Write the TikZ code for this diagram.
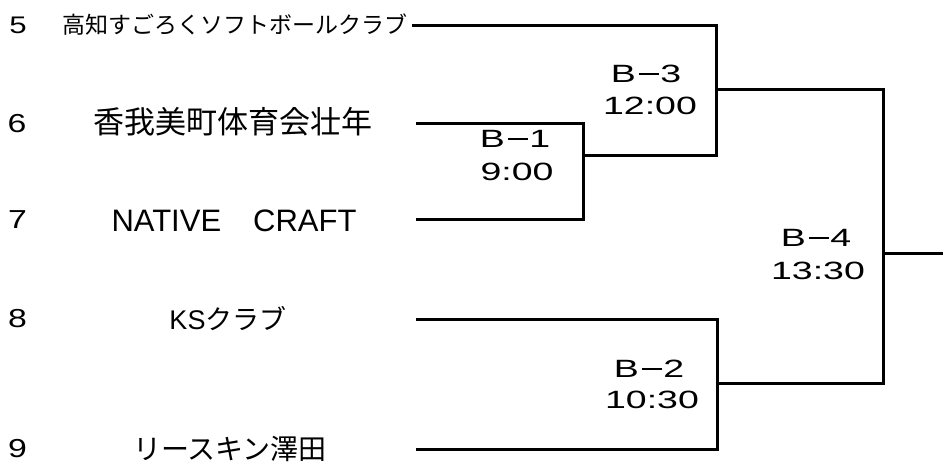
\documentclass[tikz,border=0pt]{standalone}
\usepackage{fontspec}
\setmainfont{Liberation Sans}
\newfontfamily\jpfont{Noto Sans CJK JP}
\newfontfamily\labfont[FakeStretch=1.5]{Liberation Sans}
\newfontfamily\numfont[FakeStretch=1.3]{Liberation Sans}
\newcommand\bminus{\hspace{3pt}\rule[7.5pt]{20pt}{2pt}\hspace{1.5pt}}
\begin{document}
\begin{tikzpicture}[x=1pt,y=-1pt,
  numtxt/.style={inner sep=0pt,font=\numfont\fontsize{26}{26}\selectfont},
  teamtxt/.style={inner sep=0pt},
  labtxt/.style={inner sep=0pt,font=\labfont\fontsize{25}{25}\selectfont},
  bline/.style={line width=3pt,line cap=rect,line join=miter}]
\fill[white] (0,0) rectangle (943,464);
\useasboundingbox (0,0) rectangle (943,464);
% numbers
\node[numtxt,font=\numfont\fontsize{24}{24}\selectfont] (n5) at (18,25) {5};
\node[numtxt] (n6) at (17,124) {6};
\node[numtxt] (n7) at (17.5,220) {7};
\node[numtxt] (n8) at (17.5,319) {8};
\node[numtxt] (n9) at (17.5,449) {9};
% team names
\node[teamtxt,font=\jpfont\fontsize{23}{23}\selectfont] (t5) at (235,25) {高知すごろくソフトボールクラブ};
\node[teamtxt,font=\jpfont\fontsize{31}{31}\selectfont] (t6) at (233,122) {香我美町体育会壮年};
\node[teamtxt,font=\fontsize{31}{31}\selectfont] (t7) at (234,221) {NATIVE\hspace{32pt}CRAFT};
\node[teamtxt,font=\fontsize{27}{27}\selectfont] (t8) at (228,319) {KS{\jpfont クラブ}};
\node[teamtxt,font=\jpfont\fontsize{28}{28}\selectfont] (t9) at (230,449) {リースキン澤田};
% match labels
\node[labtxt] (b1a) at (515,139) {B\bminus 1};
\node[labtxt] (b1b) at (517,172) {9:00};
\node[labtxt] (b3a) at (646,74) {B\bminus 3};
\node[labtxt] (b3b) at (650,106) {12:00};
\node[labtxt] (b2a) at (649,369) {B\bminus 2};
\node[labtxt] (b2b) at (652,400) {10:30};
\node[labtxt] (b4a) at (816,237.5) {B\bminus 4};
\node[labtxt] (b4b) at (818,271) {13:30};
% line start points
\coordinate (s5) at (413,25);
\coordinate (s6) at (417,123);
\coordinate (s7) at (417,219);
\coordinate (s8) at (417,319);
\coordinate (s9) at (417,449);
% bracket corners
\coordinate (c6) at (583,123);
\coordinate (c7) at (583,219);
\coordinate (m1) at (583,155);
\coordinate (c5) at (716,25);
\coordinate (c31) at (716,155);
\coordinate (m3) at (716,89);
\coordinate (c8) at (717,319);
\coordinate (c9) at (717,449);
\coordinate (m2) at (717,383);
\coordinate (c43) at (883,89);
\coordinate (c42) at (883,383);
\coordinate (m4) at (883,253);
\coordinate (out) at (943,253);
% brackets
\draw[bline] (s6) -- (c6) -- (c7) -- (s7);
\draw[bline] (s5) -- (c5) -- (c31) -- (m1);
\draw[bline] (s8) -- (c8) -- (c9) -- (s9);
\draw[bline] (m3) -- (c43) -- (c42) -- (m2);
\draw[bline] (m4) -- (out);
\end{tikzpicture}
\end{document}
